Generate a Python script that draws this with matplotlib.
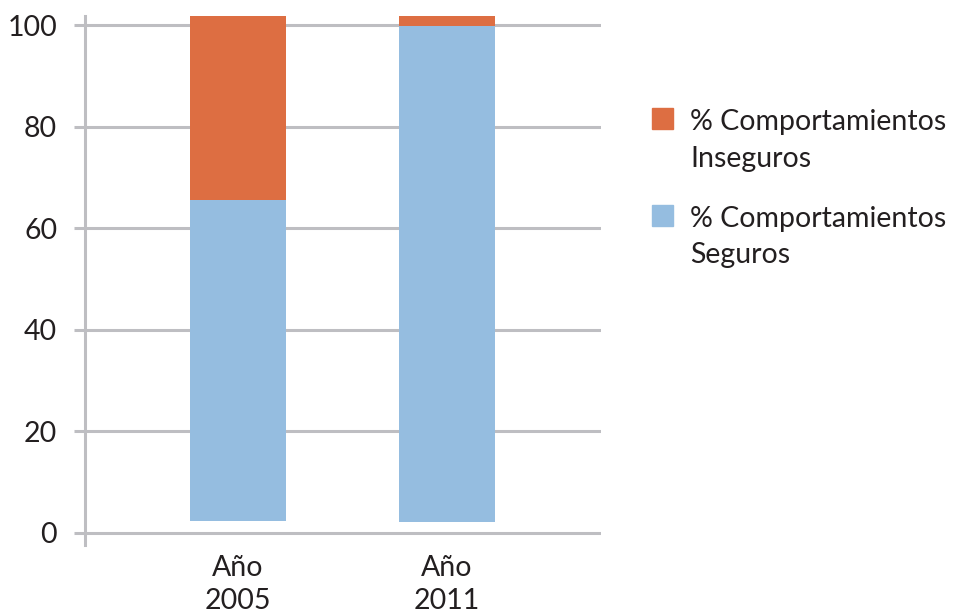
import matplotlib.pyplot as plt
from matplotlib.patches import Rectangle

categories = ['Año\n2005', 'Año\n2011']
base = [2.4, 2.2]
seguros = [63.2, 97.6]
inseguros = [36.2, 2.0]
labels = ['% Comportamientos\nInseguros', '% Comportamientos\nSeguros']
yticks = [0, 20, 40, 60, 80, 100]

c_seg = '#95BDE0'
c_ins = '#DD6E42'
grey = '#BEBEC2'
txt = '#231F20'

plt.rcParams['font.family'] = ['Lato', 'DejaVu Sans']
plt.rcParams['font.size'] = 20.5

fig = plt.figure(figsize=(9.55, 6.15), dpi=100)
ax = fig.add_axes([85 / 955, 70 / 615, 516 / 955, 529 / 615])

x = list(range(len(categories)))
tops = [b + s for b, s in zip(base, seguros)]
ax.bar(x, seguros, bottom=base, width=0.46, color=c_seg, zorder=3)
ax.bar(x, inseguros, bottom=tops, width=0.46, color=c_ins, zorder=3)

ax.set_xlim(-0.732, 1.737)
ax.set_ylim(-2.4, 101.8)
ax.set_yticks(yticks)
ax.set_xticks(x)
ax.set_xticklabels(categories, color=txt, linespacing=1.35)
ax.yaxis.grid(True, color=grey, linewidth=2.2, zorder=0)
ax.tick_params(axis='y', length=8, width=2.2, color=grey, pad=12, labelcolor=txt)
ax.tick_params(axis='x', length=0, pad=7)
for s in ['top', 'right', 'bottom']:
    ax.spines[s].set_visible(False)
ax.spines['left'].set_color(grey)
ax.spines['left'].set_linewidth(2.2)

# legend drawn by hand so the swatch sits beside the first text line
W, H = 955, 615
for i, (lab, col) in enumerate(zip(labels, [c_ins, c_seg])):
    y0 = 108 + i * 97
    fig.patches.append(Rectangle((652 / W, 1 - (y0 + 21) / H), 21 / W, 21 / H,
                                 transform=fig.transFigure, color=col))
    fig.text(690 / W, 1 - (y0 + 1) / H, lab, ha='left', va='top',
             linespacing=1.5, color=txt)

fig.savefig('out.png', dpi=100)
